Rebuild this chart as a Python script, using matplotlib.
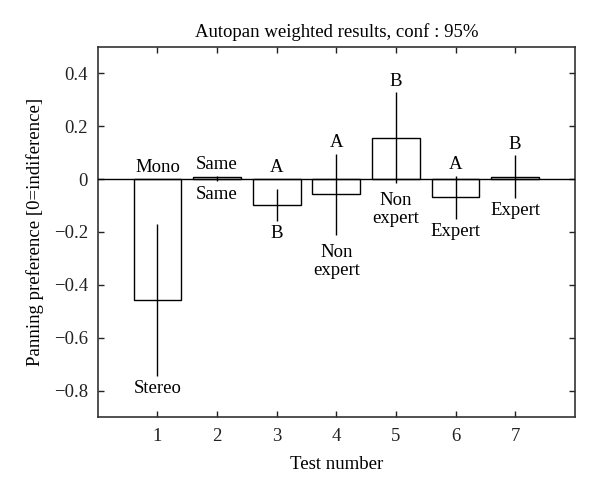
import matplotlib
matplotlib.use('Agg')
import matplotlib.pyplot as plt

plt.rcParams['font.family'] = ['Liberation Serif', 'DejaVu Serif']

# Data
tests = [1, 2, 3, 4, 5, 6, 7]
means = [-0.456, 0.006, -0.098, -0.056, 0.154, -0.069, 0.007]
err_hi = [-0.169, 0.012, -0.037, 0.096, 0.328, 0.012, 0.090]
err_lo = [-0.744, -0.009, -0.159, -0.213, -0.016, -0.150, -0.071]
top_labels = ['Mono', 'Same', 'A', 'A', 'B', 'A', 'B']
bottom_labels = ['Stereo', 'Same', 'B', 'Non\nexpert', 'Non\nexpert', 'Expert', 'Expert']

fs = 13.5

fig = plt.figure(figsize=(6, 4.94), dpi=100)
ax = fig.add_axes([0.163, 0.156, 0.795, 0.749])

ax.bar(tests, means, width=0.8, facecolor='white', edgecolor='black', linewidth=1.0, zorder=2)
ax.axhline(0, color='black', linewidth=1.0, zorder=3)
ax.vlines(tests, err_lo, err_hi, color='black', linewidth=1.0, zorder=4)

for x, hi, lo, tl, bl in zip(tests, err_hi, err_lo, top_labels, bottom_labels):
    ax.annotate(tl, (x, max(hi, 0)), xytext=(0, 2), textcoords='offset points',
                ha='center', va='bottom', fontsize=fs)
    # two-line labels sit a bit lower in the original
    off = -6 if '\n' in bl else -3
    ax.annotate(bl, (x, lo), xytext=(0, off), textcoords='offset points',
                ha='center', va='top', fontsize=fs, linespacing=1.1)

ax.set_xlim(0, 8)
ax.set_ylim(-0.9, 0.5)
ax.set_xticks(tests)
ax.set_yticks([-0.8, -0.6, -0.4, -0.2, 0, 0.2, 0.4])
ax.set_yticklabels(['\u22120.8', '\u22120.6', '\u22120.4', '\u22120.2', '0', '0.2', '0.4'])
ax.tick_params(direction='in', length=4, width=1, labelsize=fs, colors='#222222',
               top=True, right=True)
ax.tick_params(axis='x', pad=8)
ax.tick_params(axis='y', pad=7)
for s in ax.spines.values():
    s.set_color('#333333')
    s.set_linewidth(1.2)

ax.set_xlabel('Test number', fontsize=fs, labelpad=8)
ax.set_ylabel('Panning preference [0=indiference]', fontsize=fs, labelpad=7)
ax.set_title('Autopan weighted results, conf : 95%', fontsize=fs, pad=7)

fig.savefig('out.png', dpi=100)
